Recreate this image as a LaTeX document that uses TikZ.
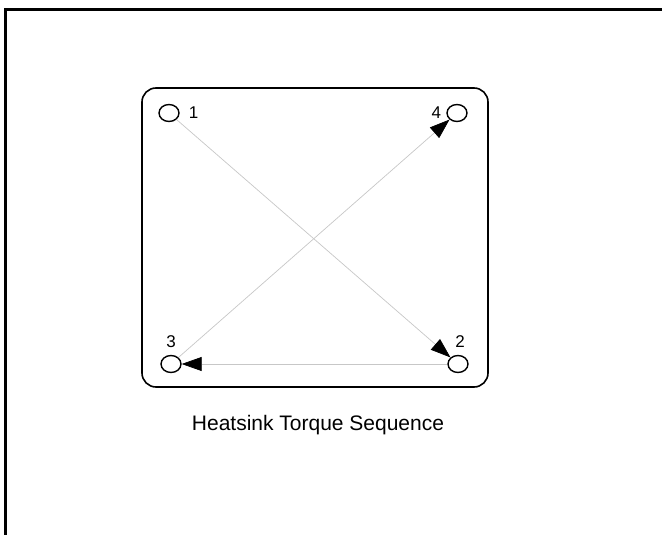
\documentclass[tikz,border=0pt]{standalone}
\usepackage{fontspec}
\setmainfont{Liberation Sans}
\usetikzlibrary{shapes.geometric,arrows.meta,positioning}

\begin{document}
\begin{tikzpicture}[x=1pt, y=-1pt,
  hole/.style={ellipse, draw, line width=1.4pt, minimum width=20pt, minimum height=17pt, inner sep=0pt},
  num/.style={font=\fontsize{17}{20}\selectfont, inner sep=0pt},
  arr/.style={-{Triangle[length=20pt, width=14pt, color=black]}, line width=0.7pt, black!22}
]
  \useasboundingbox (0,0) rectangle (662,535);
  \draw[line width=3pt] (5,535) -- (5,10) -- (662,10);
  \draw[line width=1.6pt, rounded corners=14pt] (142,88) rectangle (488,387);

  % mounting holes
  \node[hole] (h1) at (169,113) {};
  \node[hole] (h4) at (457,113) {};
  \node[hole] (h3) at (171,364) {};
  \node[hole] (h2) at (458,364) {};

  \node[num, right=9pt of h1] (n1) {1};
  \node[num, left=5pt of h4] (n4) {4};
  \node[num, above=7pt of h3] (n3) {3};
  \node[num, above=7pt of h2, xshift=2pt] (n2) {2};

  \draw[arr] (h1) -- (h2);
  \draw[arr] (h2) -- (h3);
  \draw[arr] (h3) -- (h4);

  \node[font=\fontsize{21}{25}\selectfont] (title) at (318,425) {Heatsink Torque Sequence};
\end{tikzpicture}
\end{document}
